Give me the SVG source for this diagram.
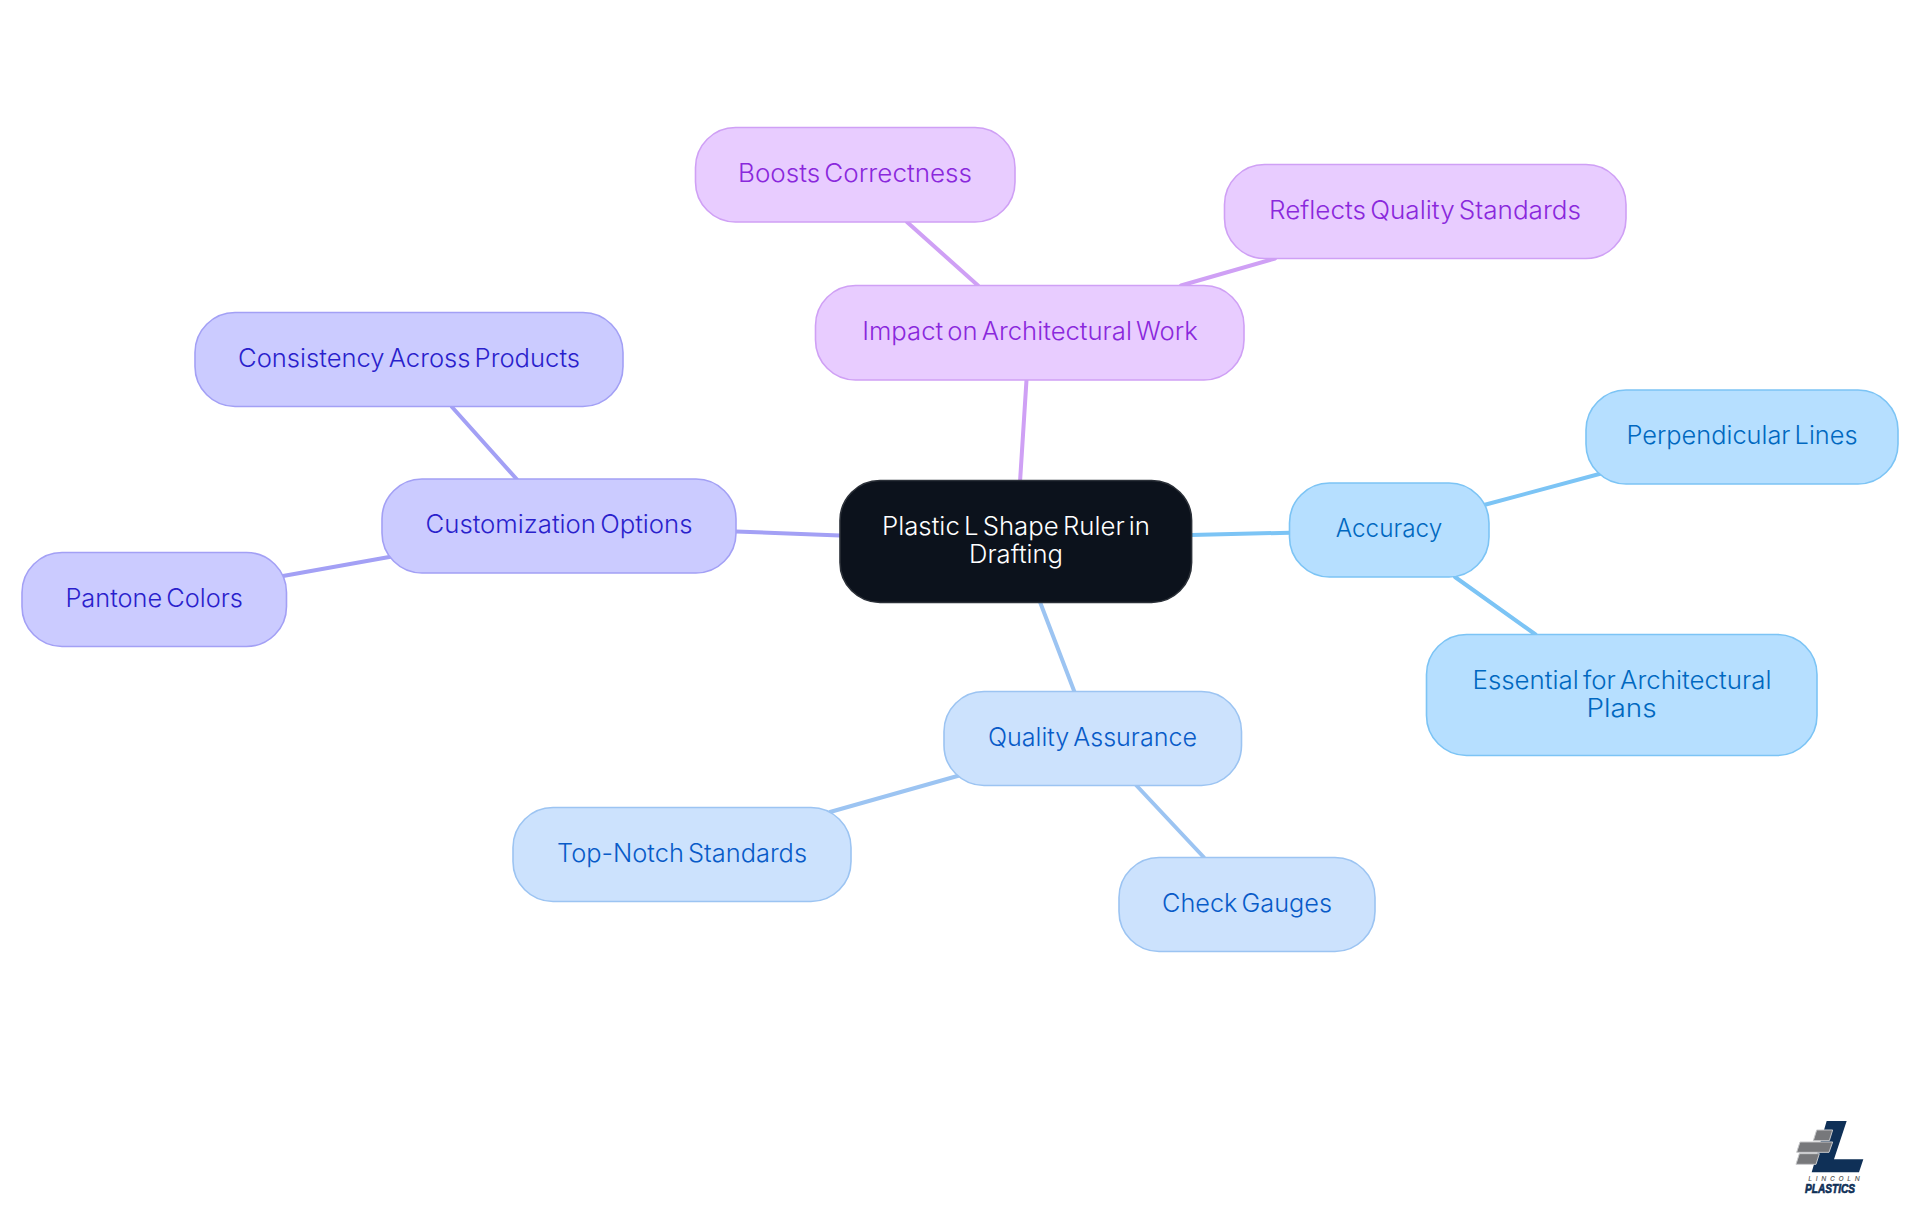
<svg xmlns="http://www.w3.org/2000/svg" width="1920" height="1215" viewBox="0 0 1920 1215">
<style>
text{font-family:"Inter","Liberation Sans",sans-serif;font-size:25px;font-weight:320;text-anchor:middle;word-spacing:-3px}
rect{stroke-width:1.6;rx:40px;ry:40px}
line{stroke-width:4;stroke-linecap:round}
.r rect{fill:#0c121c;stroke:#2b3038}.r text{fill:#fff;font-weight:340}
.a rect{fill:#b6dfff;stroke:#7cc4f5}.a text{fill:#0068c0}
.q rect{fill:#cce2fd;stroke:#9cc4f2}.q text{fill:#085bc8}
.c rect{fill:#cbcbff;stroke:#a3a0f5}.c text{fill:#2a1fcc}
.i rect{fill:#e8ccff;stroke:#cfa0f5}.i text{fill:#8a28dc}
.la{stroke:#7cc4f5}.lq{stroke:#9cc4f2}.lc{stroke:#a3a0f5}.li{stroke:#cfa0f5}
</style>
<rect width="1920" height="1215" style="fill:#fff;stroke:none;rx:0;ry:0"/>
<g id="connectors">
<line class="li" x1="1026.5" y1="380" x2="1020" y2="482"/>
<line class="la" x1="1191" y1="535" x2="1290" y2="532.7"/>
<line class="lq" x1="1040" y1="602" x2="1074.5" y2="692"/>
<line class="lc" x1="840" y1="535.5" x2="736" y2="531.5"/>
<line class="la" x1="1484" y1="505" x2="1603" y2="473"/>
<line class="la" x1="1455" y1="577" x2="1535.5" y2="634.5"/>
<line class="lq" x1="830" y1="812" x2="961" y2="775"/>
<line class="lq" x1="1136" y1="785" x2="1204" y2="857.5"/>
<line class="lc" x1="452" y1="407" x2="517" y2="479.5"/>
<line class="lc" x1="283" y1="576" x2="392" y2="556.5"/>
<line class="li" x1="907" y1="222" x2="978" y2="285.5"/>
<line class="li" x1="1181" y1="285.5" x2="1275" y2="258.5"/>
</g>
<g id="root" class="r"><rect x="840" y="480.5" width="351.6" height="122"/><text x="1016" y="535" textLength="268" lengthAdjust="spacingAndGlyphs">Plastic L Shape Ruler in</text><text x="1016" y="563" textLength="94" lengthAdjust="spacingAndGlyphs">Drafting</text></g>
<g id="accuracy" class="a"><rect x="1289.5" y="483" width="199.5" height="94"/><text x="1389" y="536.7" textLength="106.5" lengthAdjust="spacingAndGlyphs">Accuracy</text></g>
<g id="perpendicular" class="a"><rect x="1586" y="390" width="312" height="94"/><text x="1742" y="443.5" textLength="231" lengthAdjust="spacingAndGlyphs">Perpendicular Lines</text></g>
<g id="essential" class="a"><rect x="1426.5" y="634.5" width="390.5" height="121"/><text x="1622" y="689" textLength="299" lengthAdjust="spacingAndGlyphs">Essential for Architectural</text><text x="1621.5" y="717" textLength="70" lengthAdjust="spacingAndGlyphs">Plans</text></g>
<g id="quality" class="q"><rect x="944" y="691.5" width="297.5" height="94"/><text x="1092.5" y="745.5" textLength="209" lengthAdjust="spacingAndGlyphs">Quality Assurance</text></g>
<g id="topnotch" class="q"><rect x="513" y="807.5" width="338" height="94"/><text x="682" y="861.5" textLength="250" lengthAdjust="spacingAndGlyphs">Top-Notch Standards</text></g>
<g id="gauges" class="q"><rect x="1119" y="857.5" width="256" height="94"/><text x="1247" y="911.5" textLength="170" lengthAdjust="spacingAndGlyphs">Check Gauges</text></g>
<g id="customization" class="c"><rect x="382" y="479" width="354" height="94"/><text x="559" y="533" textLength="267" lengthAdjust="spacingAndGlyphs">Customization Options</text></g>
<g id="consistency" class="c"><rect x="195" y="312.5" width="428" height="94"/><text x="409" y="366.5" textLength="342" lengthAdjust="spacingAndGlyphs">Consistency Across Products</text></g>
<g id="pantone" class="c"><rect x="22" y="552.5" width="264.5" height="94"/><text x="154.2" y="606.5" textLength="177.5" lengthAdjust="spacingAndGlyphs">Pantone Colors</text></g>
<g id="impact" class="i"><rect x="815.5" y="285.5" width="428.5" height="94.5"/><text x="1030" y="339.5" textLength="335.5" lengthAdjust="spacingAndGlyphs">Impact on Architectural Work</text></g>
<g id="boosts" class="i"><rect x="695.5" y="127.5" width="319.5" height="94.5"/><text x="855" y="181.5" textLength="234" lengthAdjust="spacingAndGlyphs">Boosts Correctness</text></g>
<g id="reflects" class="i"><rect x="1224.5" y="164.5" width="401.5" height="94"/><text x="1425" y="218.5" textLength="312" lengthAdjust="spacingAndGlyphs">Reflects Quality Standards</text></g>
<g id="logo" transform="translate(1760 1090) scale(.33333)">
<polygon points="200,93 260,93 222,208 310,208 297,247 155,247" fill="#0f3057"/>
<g fill="#77787b" stroke="#c8c9cb" stroke-width="3"><polygon points="170,120 218,120 208,152 160,152"/><polygon points="120,156 218,156 207,187 110,187"/><polygon points="118,191 178,191 168,223 108,223"/></g>
<text x="222" y="274" style="font-size:20px;font-style:italic;font-weight:500;fill:#555;word-spacing:0" textLength="155">LINCOLN</text>
<text x="210" y="309" style="font-size:38px;font-style:italic;font-weight:700;fill:#0f3057;stroke:#0f3057;stroke-width:2px;font-family:'Liberation Sans',sans-serif;word-spacing:0" textLength="150" lengthAdjust="spacingAndGlyphs">PLASTICS</text>
</g>
</svg>
